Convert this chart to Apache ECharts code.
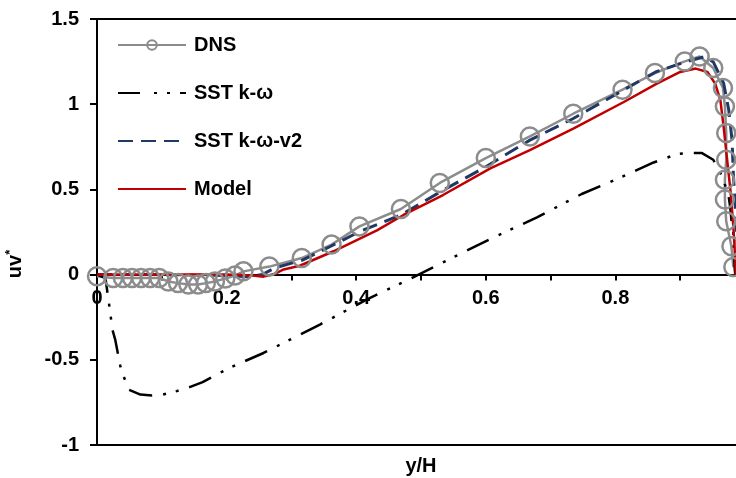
<!DOCTYPE html>
<html><head><meta charset="utf-8">
<script src="https://cdn.jsdelivr.net/npm/echarts@6/dist/echarts.min.js"></script>
<style>html,body{margin:0;padding:0;background:#fff}#c{width:736px;height:478px}</style>
</head><body><div id="c"></div>
<script>
// ---- data ----
const seriesNames = ['DNS', 'SST k-ω', 'SST k-ω-v2', 'Model'];
const xTickLabels = [0, 0.2, 0.4, 0.6, 0.8];
const yTickLabels = [-1, -0.5, 0, 0.5, 1, 1.5];

const dnsX = [0, 0.025, 0.04, 0.054, 0.068, 0.082, 0.096, 0.11, 0.125, 0.141, 0.156, 0.168, 0.182, 0.198, 0.213, 0.226, 0.266,
  0.316, 0.362, 0.405, 0.469, 0.529, 0.600, 0.668, 0.735, 0.811, 0.861, 0.907, 0.930, 0.951, 0.966, 0.969, 0.971, 0.971, 0.969, 0.969, 0.971, 0.979, 0.982];
const dnsY = [-0.01, -0.02, -0.02, -0.02, -0.02, -0.02, -0.02, -0.04, -0.05, -0.058, -0.058, -0.05, -0.04, -0.023, -0.006, 0.019, 0.047,
  0.097, 0.176, 0.283, 0.385, 0.538, 0.684, 0.811, 0.944, 1.085, 1.183, 1.251, 1.28, 1.212, 1.095, 0.987, 0.831, 0.674, 0.557, 0.44, 0.313, 0.166, 0.044];

const sstX = [0, 0.013, 0.018, 0.021, 0.023, 0.028, 0.036, 0.041, 0.049, 0.067, 0.085, 0.102, 0.123, 0.143, 0.163, 0.197, 0.216, 0.257,
  0.344, 0.416, 0.483, 0.555, 0.607, 0.679, 0.748, 0.808, 0.859, 0.895, 0.911, 0.933, 0.951, 0.961, 0.974, 0.977, 0.979, 0.982, 0.984, 0.985];
const sstY = [0, -0.02, -0.157, -0.235, -0.313, -0.38, -0.537, -0.596, -0.675, -0.704, -0.71, -0.704, -0.684, -0.66, -0.631, -0.562, -0.528, -0.46,
  -0.293, -0.147, -0.025, 0.111, 0.209, 0.336, 0.473, 0.57, 0.658, 0.707, 0.713, 0.714, 0.674, 0.606, 0.479, 0.4, 0.323, 0.246, 0.04, 0];

const v2X = [0, 0.1, 0.2, 0.235, 0.255, 0.275, 0.317, 0.36, 0.405, 0.469, 0.53, 0.6, 0.668, 0.735, 0.812, 0.862, 0.908, 0.936, 0.951, 0.967, 0.975, 0.98, 0.982, 0.985, 0.987, 0.99];
const v2Y = [0, 0, -0.005, -0.012, 0, 0.04, 0.085, 0.165, 0.252, 0.35, 0.486, 0.633, 0.789, 0.916, 1.082, 1.189, 1.248, 1.277, 1.248, 1.124, 0.964, 0.789, 0.594, 0.394, 0.244, 0];

const modelX = [0, 0.1, 0.2, 0.24, 0.257, 0.275, 0.288, 0.313, 0.365, 0.432, 0.473, 0.534, 0.607, 0.668, 0.735, 0.813, 0.864, 0.9, 0.924, 0.942, 0.954, 0.962, 0.967, 0.9725, 0.978, 0.982, 0.985, 0.986];
const modelY = [0, 0, 0, -0.005, -0.012, 0.005, 0.03, 0.052, 0.137, 0.26, 0.35, 0.467, 0.623, 0.73, 0.857, 1.013, 1.121, 1.189, 1.209, 1.189, 1.121, 1.024, 0.867, 0.672, 0.477, 0.281, 0.086, 0];

// ---- chart ----
const FONT = "'Liberation Sans', Arial, sans-serif";
const pairs = (xs, ys) => xs.map((x, i) => [x, ys[i]]);
const matchLabel = (arr, v) => {
  const hit = arr.find(t => Math.abs(t - v) < 1e-6);
  return hit === undefined ? '' : String(hit);
};
const txt = { color: '#000', fontSize: 20, fontWeight: 'bold', fontFamily: FONT };
const noSym = { color: 'rgba(0,0,0,0)', borderWidth: 0, opacity: 0 };

const W = 736, H = 478;
const GRID = { left: 97, right: -9, top: 19, bottom: 33 };
const yMin = yTickLabels[0], yMax = yTickLabels[yTickLabels.length - 1];
const gridH = H - GRID.top - GRID.bottom;
// move the labelled x axis up so that it sits on y = 0 (axis crossing at zero)
const xAxisOffset = -gridH * (0 - yMin) / (yMax - yMin);

const chart = echarts.init(document.getElementById('c'), null, { renderer: 'canvas' });
chart.setOption({
  animation: false,
  backgroundColor: '#fff',
  grid: Object.assign({ show: true, borderColor: '#000', borderWidth: 2, backgroundColor: 'rgba(0,0,0,0)', outerBoundsMode: 'none' }, GRID),
  legend: {
    orient: 'vertical', left: 117, top: 35, padding: 0,
    itemWidth: 68, itemHeight: 12, itemGap: 28,
    textStyle: Object.assign({}, txt, { lineHeight: 20, padding: [0, 0, 0, 3] }),
    data: [
      { name: seriesNames[0] },
      { name: seriesNames[1], lineStyle: { type: [22, 14, 3, 10, 3, 10] }, itemStyle: noSym },
      { name: seriesNames[2], itemStyle: noSym },
      { name: seriesNames[3], itemStyle: noSym }
    ]
  },
  xAxis: {
    type: 'value', min: 0, max: 1, interval: 0.1, position: 'bottom', offset: xAxisOffset,
    axisLine: { onZero: false, lineStyle: { color: '#000', width: 2 } },
    axisTick: { show: true, length: 6, lineStyle: { color: '#000', width: 2 } },
    axisLabel: Object.assign({ margin: 14, formatter: v => matchLabel(xTickLabels, v) }, txt),
    splitLine: { show: false },
    name: 'y/H', nameLocation: 'middle', nameGap: 182,
    nameTextStyle: txt
  },
  yAxis: [
    {
      type: 'value', min: yMin, max: yMax, interval: 0.5,
      axisLine: { show: true, onZero: false, lineStyle: { color: '#000', width: 2 } },
      axisTick: { show: true, length: 7, lineStyle: { color: '#000', width: 2 } },
      axisLabel: Object.assign({ margin: 18, formatter: v => matchLabel(yTickLabels, v) }, txt),
      splitLine: { show: false },
      name: '{a|uv}{b|*}', nameLocation: 'middle', nameGap: 70, nameRotate: 90,
      nameTextStyle: {
        padding: [0, 64, 0, 0],
        rich: {
          a: { fontSize: 20, fontWeight: 'bold', color: '#000', fontFamily: FONT },
          b: { fontSize: 13, fontWeight: 'bold', color: '#000', fontFamily: FONT, padding: [0, 0, 10, 0] }
        }
      }
    },
    {
      type: 'value', min: yMin, max: yMax, interval: 0.2,
      axisLine: { show: false, onZero: false },
      axisTick: { show: true, length: 7, lineStyle: { color: '#000', width: 2 } },
      axisLabel: { show: false },
      splitLine: { show: false }
    }
  ],
  series: [
    {
      name: seriesNames[0], type: 'line', data: pairs(dnsX, dnsY), yAxisIndex: 0,
      symbol: 'circle', symbolSize: 18, showSymbol: true,
      itemStyle: { color: 'rgba(255,255,255,0)', borderColor: '#8C8C8C', borderWidth: 2.5 },
      lineStyle: { color: '#8C8C8C', width: 2.5 },
      emphasis: { disabled: true }
    },
    {
      name: seriesNames[1], type: 'line', data: pairs(sstX, sstY), yAxisIndex: 0,
      symbol: 'none', itemStyle: { color: '#000' },
      lineStyle: { color: '#000', width: 2.5, type: [24, 11, 3, 10, 3, 11], cap: 'butt' },
      emphasis: { disabled: true }
    },
    {
      name: seriesNames[2], type: 'line', data: pairs(v2X, v2Y), yAxisIndex: 0,
      symbol: 'none', itemStyle: { color: '#1F3864' },
      lineStyle: { color: '#1F3864', width: 3, type: [15, 8] },
      emphasis: { disabled: true }
    },
    {
      name: seriesNames[3], type: 'line', data: pairs(modelX, modelY), yAxisIndex: 0,
      symbol: 'none', itemStyle: { color: '#C00000' },
      lineStyle: { color: '#C00000', width: 2.5 },
      emphasis: { disabled: true }
    }
  ]
});
</script>
</body></html>
